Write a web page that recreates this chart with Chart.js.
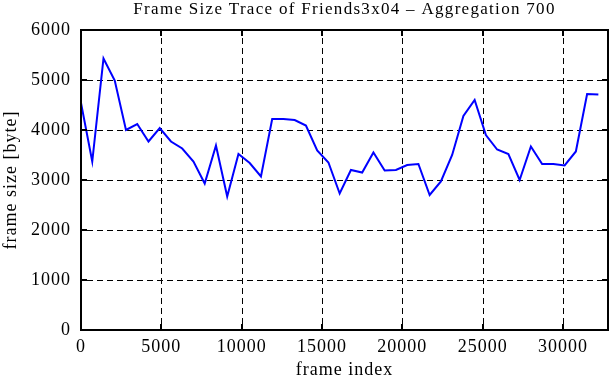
<!DOCTYPE html>
<html><head><meta charset="utf-8">
<script src="https://cdn.jsdelivr.net/npm/chart.js@4.4.1/dist/chart.umd.min.js"></script>
<style>html,body{margin:0;padding:0;background:#fff}#wrap{width:611px;height:380px}</style>
</head><body><div id="wrap"><canvas id="c" width="611" height="380"></canvas></div>
<script>
const chartTitle = 'Frame Size Trace of Friends3x04 \u2013 Aggregation 700';
const xAxisTitle = 'frame index';
const yAxisTitle = 'frame size [byte]';
const frameIndex = [0,700,1400,2100,2800,3500,4200,4900,5600,6300,7000,7700,8400,9100,9800,10500,11200,11900,12600,13300,14000,14700,15400,16100,16800,17500,18200,18900,19600,20300,21000,21700,22400,23100,23800,24500,25200,25900,26600,27300,28000,28700,29400,30100,30800,31500,32200];
const frameSize = [4540,3370,5430,4990,4000,4120,3770,4040,3770,3630,3370,2930,3690,2670,3520,3340,3070,4220,4220,4200,4090,3590,3350,2730,3200,3150,3550,3190,3200,3300,3320,2700,2970,3500,4280,4600,3900,3610,3520,3000,3670,3320,3320,3290,3570,4720,4710];
const xTicks = [0,5000,10000,15000,20000,25000,30000];
const yTicks = [0,1000,2000,3000,4000,5000,6000];
const xMax = 32800;

const FONT = 'Liberation Serif, Times New Roman, serif';

const spacing = {
  id: 'spacing',
  beforeInit(chart) { chart.ctx.letterSpacing = '1px'; },
  beforeUpdate(chart) { chart.ctx.letterSpacing = '1px'; },
  beforeDraw(chart) { chart.ctx.letterSpacing = '1px'; }
};

const frame = {
  id: 'frame',
  beforeDatasetsDraw(chart) {
    const {ctx, chartArea: a, scales: {x, y}} = chart;
    ctx.save();
    ctx.strokeStyle = '#000';
    ctx.lineWidth = 1;
    ctx.setLineDash([6, 4]);
    const tl = 6;
    xTicks.forEach(v => {
      const px = Math.round(x.getPixelForValue(v)) + 0.5;
      if (px <= a.left + 2 || px >= a.right - 2) return;
      ctx.beginPath(); ctx.moveTo(px, a.bottom - tl); ctx.lineTo(px, a.top + tl); ctx.stroke();
    });
    yTicks.forEach(v => {
      const py = Math.round(y.getPixelForValue(v)) + 0.5;
      if (py <= a.top + 2 || py >= a.bottom - 2) return;
      ctx.beginPath(); ctx.moveTo(a.left + tl, py); ctx.lineTo(a.right - tl, py); ctx.stroke();
    });
    ctx.restore();
  },
  afterDatasetsDraw(chart) {
    const {ctx, chartArea: a, scales: {x, y}} = chart;
    ctx.save();
    ctx.strokeStyle = '#000';
    ctx.lineWidth = 2;
    ctx.setLineDash([]);
    const tl = 6;
    xTicks.forEach(v => {
      const px = Math.round(x.getPixelForValue(v));
      ctx.beginPath(); ctx.moveTo(px, a.bottom); ctx.lineTo(px, a.bottom - tl); ctx.stroke();
      ctx.beginPath(); ctx.moveTo(px, a.top); ctx.lineTo(px, a.top + tl); ctx.stroke();
    });
    yTicks.forEach(v => {
      const py = Math.round(y.getPixelForValue(v));
      ctx.beginPath(); ctx.moveTo(a.left, py); ctx.lineTo(a.left + tl, py); ctx.stroke();
      ctx.beginPath(); ctx.moveTo(a.right, py); ctx.lineTo(a.right - tl, py); ctx.stroke();
    });
    ctx.strokeRect(Math.round(a.left), Math.round(a.top), Math.round(a.right - a.left), Math.round(a.bottom - a.top));
    // title
    ctx.letterSpacing = '1.3px';
    ctx.fillStyle = '#000';
    ctx.font = '17px ' + FONT;
    ctx.textAlign = 'center';
    ctx.textBaseline = 'alphabetic';
    ctx.fillText(chartTitle, (a.left + a.right) / 2, 14);
    ctx.restore();
  }
};

new Chart(document.getElementById('c'), {
  type: 'line',
  data: {
    datasets: [{
      data: frameIndex.map((v, i) => ({x: v, y: frameSize[i]})),
      borderColor: '#0000ff',
      borderWidth: 2,
      pointRadius: 0,
      tension: 0,
      fill: false
    }]
  },
  options: {
    responsive: false,
    animation: false,
    devicePixelRatio: 1,
    layout: {padding: {left: 0, right: 3, top: 30, bottom: 0}},
    plugins: {
      legend: {display: false},
      tooltip: {enabled: false},
      title: {display: false}
    },
    scales: {
      x: {
        type: 'linear', min: 0, max: xMax,
        afterBuildTicks: s => { s.ticks = xTicks.map(v => ({value: v})); },
        afterFit: s => { s.height = 50; },
        grid: {display: false, drawTicks: false},
        border: {display: false},
        ticks: {color: '#000', font: {family: FONT, size: 18}, padding: 6, maxRotation: 0, autoSkip: false, callback: v => String(v)},
        title: {display: true, text: xAxisTitle, color: '#000', font: {family: FONT, size: 18}, padding: {top: 0, bottom: -1}}
      },
      y: {
        type: 'linear', min: 0, max: 6000,
        afterBuildTicks: s => { s.ticks = yTicks.map(v => ({value: v})); },
        afterFit: s => { s.width = 81; },
        grid: {display: false, drawTicks: false},
        border: {display: false},
        ticks: {color: '#000', font: {family: FONT, size: 18}, padding: 10, callback: v => String(v)},
        title: {display: true, text: yAxisTitle, color: '#000', font: {family: FONT, size: 18}, padding: {top: 0, bottom: 0}}
      }
    }
  },
  plugins: [spacing, frame]
});
</script></body></html>
